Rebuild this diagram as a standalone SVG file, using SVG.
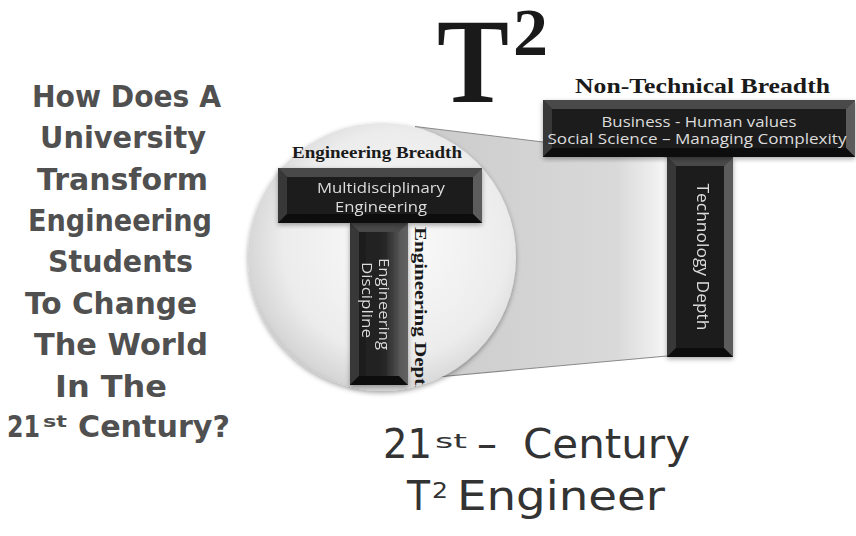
<svg xmlns="http://www.w3.org/2000/svg" width="856" height="536" viewBox="0 0 856 536">
<defs>
<style>
.comicB{font-family:"DejaVu Sans","Liberation Sans",sans-serif;font-weight:bold;fill:#505050;font-size:30px}
.comic{font-family:"DejaVu Sans","Liberation Sans",sans-serif;fill:#333;font-size:40px}
.serifB{font-family:"Liberation Serif","DejaVu Serif",serif;font-weight:bold;fill:#1a1a1a}
.bar{font-family:"Open Sans","Noto Sans","Liberation Sans",sans-serif;fill:#dcdcdc}
.core{fill:#1c1c1c}
.bt{fill:#4a4a4a}
.bl{fill:#383838}
.br{fill:#5c5c5c}
.bb{fill:#101010}
.edge{fill:none;stroke:#8a8a8a;stroke-width:1.2}
</style>
<radialGradient id="lensGrad" cx="0.55" cy="0.45" r="0.6">
<stop offset="0" stop-color="#fbfbfb"/>
<stop offset="0.7" stop-color="#ececec"/>
<stop offset="0.92" stop-color="#d6d6d6"/>
<stop offset="1" stop-color="#b8b8b8"/>
</radialGradient>
<linearGradient id="wedgeGrad" x1="0" y1="0" x2="1" y2="0">
<stop offset="0" stop-color="#cbcbcb"/>
<stop offset="0.8" stop-color="#d9d9d9"/>
<stop offset="0.95" stop-color="#eeeeee"/>
<stop offset="1" stop-color="#fafafa"/>
</linearGradient>
<linearGradient id="stemGrad" x1="0" y1="0" x2="1" y2="0">
<stop offset="0" stop-color="#1a1a1a"/>
<stop offset="0.6" stop-color="#262626"/>
<stop offset="1" stop-color="#6e6e6e"/>
</linearGradient>
<filter id="shadow" x="-10%" y="-10%" width="120%" height="120%">
<feDropShadow dx="0" dy="2" stdDeviation="2.5" flood-color="#000" flood-opacity="0.35"/>
</filter>
<clipPath id="lensClip"><circle cx="382" cy="257" r="134"/></clipPath>
</defs>
<rect width="856" height="536" fill="#ffffff"/>

<g id="title-t2">
<text class="serifB" x="437" y="102" font-size="120" textLength="72" lengthAdjust="spacingAndGlyphs" fill="#111">T</text>
<text class="serifB" x="513" y="55" font-size="68" textLength="35" lengthAdjust="spacingAndGlyphs" fill="#111">2</text>
</g>

<g id="question">
<text class="comicB" x="32" y="107" textLength="189" lengthAdjust="spacingAndGlyphs">How Does A</text>
<text class="comicB" x="40" y="148" textLength="166" lengthAdjust="spacingAndGlyphs">University</text>
<text class="comicB" x="37" y="190" textLength="171" lengthAdjust="spacingAndGlyphs">Transform</text>
<text class="comicB" x="28" y="231" textLength="184" lengthAdjust="spacingAndGlyphs">Engineering</text>
<text class="comicB" x="48" y="272" textLength="145" lengthAdjust="spacingAndGlyphs">Students</text>
<text class="comicB" x="25" y="314" textLength="172" lengthAdjust="spacingAndGlyphs">To Change</text>
<text class="comicB" x="34" y="355" textLength="174" lengthAdjust="spacingAndGlyphs">The World</text>
<text class="comicB" x="55" y="397" textLength="112" lengthAdjust="spacingAndGlyphs">In The</text>
<text class="comicB" x="7" y="437" textLength="33" lengthAdjust="spacingAndGlyphs">21</text>
<text class="comicB" x="43" y="427" style="font-size:15px" textLength="24" lengthAdjust="spacingAndGlyphs">st</text>
<text class="comicB" x="78" y="437" textLength="152" lengthAdjust="spacingAndGlyphs">Century?</text>
</g>

<g id="connectors">
<polygon points="415,126.5 667,157 667,356 415,379" fill="url(#wedgeGrad)"/>
<line class="edge" x1="415" y1="126.5" x2="667" y2="157"/>
<line class="edge" x1="415" y1="379" x2="667" y2="356"/>
</g>

<g id="lens">
<circle cx="382" cy="257" r="134" fill="url(#lensGrad)" filter="url(#shadow)"/>
<text class="serifB" x="377" y="158" font-size="16" text-anchor="middle" textLength="170" lengthAdjust="spacingAndGlyphs">Engineering Breadth</text>
<g clip-path="url(#lensClip)">
<text class="serifB" transform="translate(415,227) rotate(90)" font-size="16" textLength="170" lengthAdjust="spacingAndGlyphs">Engineering Depth</text>
</g>
</g>

<g id="left-stem" filter="url(#shadow)">
<rect x="350" y="223" width="58" height="162" fill="url(#stemGrad)"/>
<polygon class="bt" points="350,223 408,223 399,232 359,232"/>
<polygon class="bl" points="350,223 359,232 359,376 350,385"/>
<polygon class="br" points="408,223 408,385 399,376 399,232" fill-opacity="0.6"/>
<polygon class="bb" points="350,385 359,376 399,376 408,385"/>
<text class="bar" transform="translate(379,304) rotate(90)" font-size="14" text-anchor="middle" textLength="92" lengthAdjust="spacingAndGlyphs">Engineering</text>
<text class="bar" transform="translate(362,300) rotate(90)" font-size="14" text-anchor="middle" textLength="76" lengthAdjust="spacingAndGlyphs">Discipline</text>
</g>

<g id="left-bar" filter="url(#shadow)">
<rect class="core" x="278" y="168" width="204" height="55"/>
<polygon class="bt" points="278,168 482,168 473,177 287,177"/>
<polygon class="bl" points="278,168 287,177 287,214 278,223"/>
<polygon class="br" points="482,168 482,223 473,214 473,177"/>
<polygon class="bb" points="278,223 287,214 473,214 482,223"/>
<text class="bar" x="381" y="193" font-size="15" text-anchor="middle" textLength="128" lengthAdjust="spacingAndGlyphs">Multidisciplinary</text>
<text class="bar" x="381" y="212" font-size="15" text-anchor="middle" textLength="92" lengthAdjust="spacingAndGlyphs">Engineering</text>
</g>

<g id="right-stem" filter="url(#shadow)">
<rect class="core" x="667" y="157" width="66" height="200"/>
<polygon class="bt" points="667,157 733,157 724,166 676,166"/>
<polygon class="bl" points="667,157 676,166 676,348 667,357"/>
<polygon class="br" points="733,157 733,357 724,348 724,166"/>
<polygon class="bb" points="667,357 676,348 724,348 733,357"/>
<text class="bar" transform="translate(697,257) rotate(90)" font-size="16" text-anchor="middle" textLength="147" lengthAdjust="spacingAndGlyphs">Technology Depth</text>
</g>

<g id="right-bar">
<text class="serifB" x="575" y="93" font-size="20" textLength="255" lengthAdjust="spacingAndGlyphs">Non-Technical Breadth</text>
<g filter="url(#shadow)">
<rect class="core" x="543" y="100" width="312" height="57"/>
<polygon class="bt" points="543,100 855,100 846,109 552,109"/>
<polygon class="bl" points="543,100 552,109 552,148 543,157"/>
<polygon class="br" points="855,100 855,157 846,148 846,109"/>
<polygon class="bb" points="543,157 552,148 846,148 855,157"/>
</g>
<text class="bar" x="699" y="127" font-size="14" text-anchor="middle" textLength="195" lengthAdjust="spacingAndGlyphs">Business - Human values</text>
<text class="bar" x="697" y="144" font-size="14" text-anchor="middle" textLength="299" lengthAdjust="spacingAndGlyphs">Social Science – Managing Complexity</text>
</g>

<g id="caption">
<text class="comic" x="383" y="458" textLength="49" lengthAdjust="spacingAndGlyphs">21</text>
<text class="comic" x="435" y="448" style="font-size:20px" textLength="32" lengthAdjust="spacingAndGlyphs">st</text>
<text class="comic" x="477" y="458" textLength="20" lengthAdjust="spacingAndGlyphs">–</text>
<text class="comic" x="523" y="458" textLength="167" lengthAdjust="spacingAndGlyphs">Century</text>
<text class="comic" x="407" y="510" textLength="23" lengthAdjust="spacingAndGlyphs">T</text>
<text class="comic" x="432" y="498" style="font-size:21px" textLength="16" lengthAdjust="spacingAndGlyphs">2</text>
<text class="comic" x="457" y="510" textLength="208" lengthAdjust="spacingAndGlyphs">Engineer</text>
</g>
</svg>
